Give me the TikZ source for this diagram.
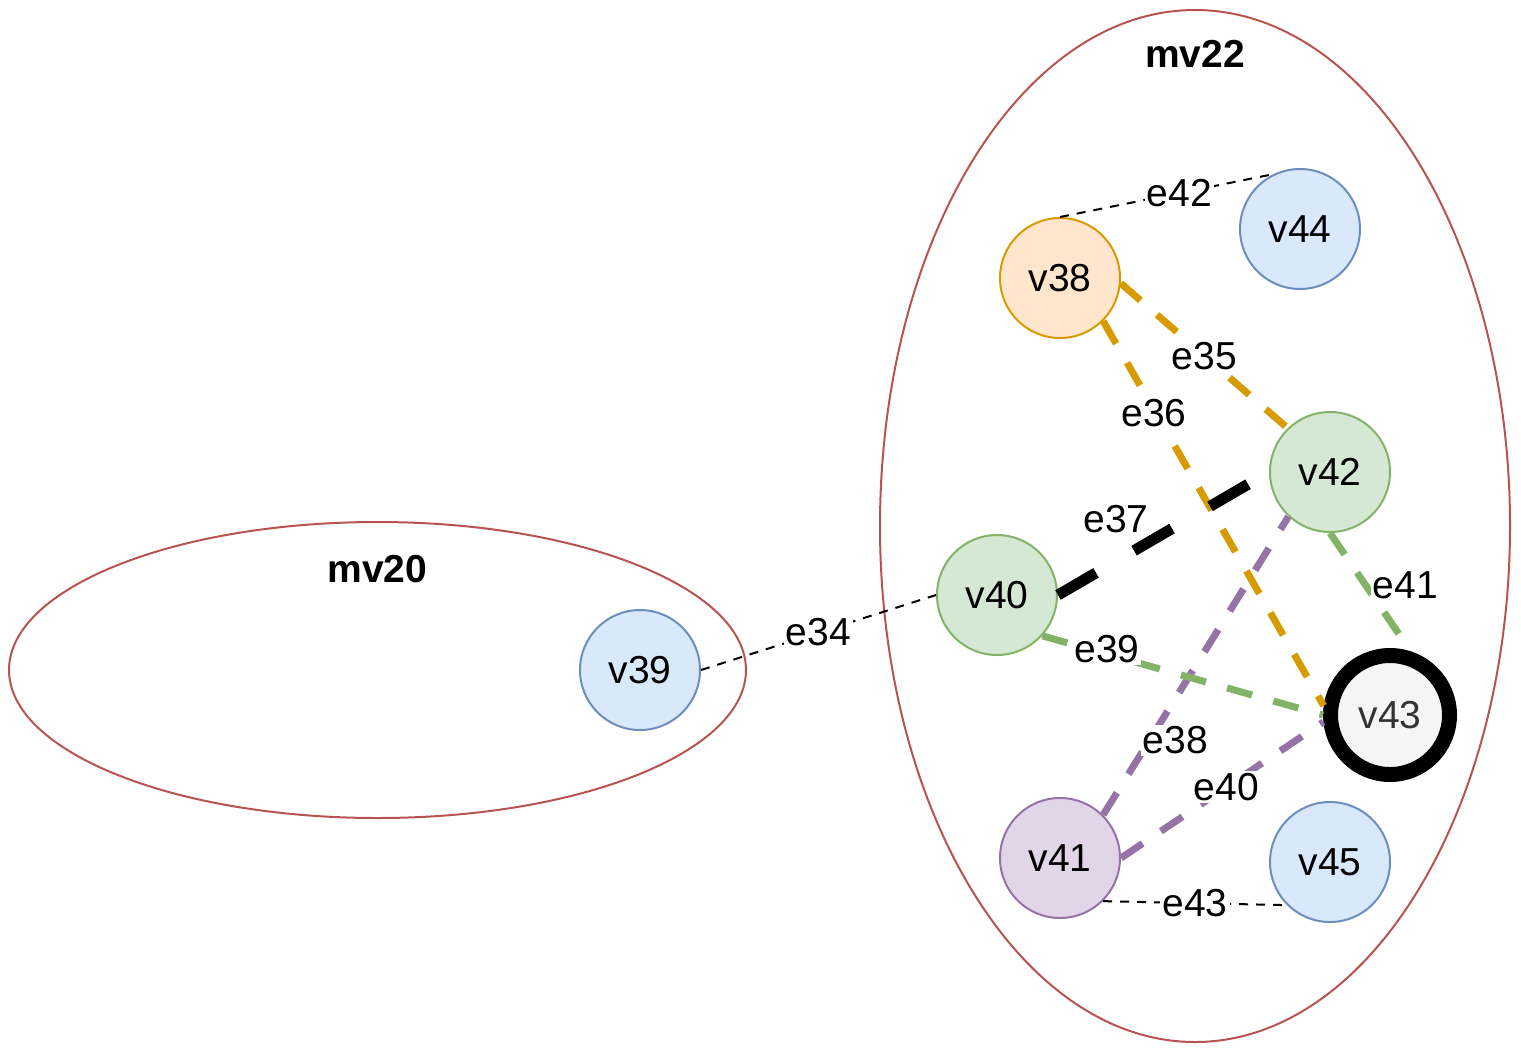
\documentclass[tikz,border=0pt]{standalone}
\usepackage{fontspec}
\setmainfont{Liberation Sans}
\usetikzlibrary{shapes.geometric}

\definecolor{blueFill}{HTML}{DAE8FC}
\definecolor{blueLine}{HTML}{6C8EBF}
\definecolor{greenFill}{HTML}{D5E8D4}
\definecolor{greenLine}{HTML}{82B366}
\definecolor{orangeFill}{HTML}{FFE6CC}
\definecolor{orangeLine}{HTML}{D79B00}
\definecolor{purpleFill}{HTML}{E1D5E7}
\definecolor{purpleLine}{HTML}{9673A6}
\definecolor{greyFill}{HTML}{F5F5F5}
\definecolor{greyText}{HTML}{333333}
\definecolor{groupLine}{HTML}{B85450}

\tikzset{
  vtx/.style={circle,minimum size=60pt,inner sep=0pt,line width=1pt,
    font=\fontsize{19.5}{23}\selectfont},
  vblue/.style={vtx,draw=blueLine,fill=blueFill},
  vgreen/.style={vtx,draw=greenLine,fill=greenFill},
  vorange/.style={vtx,draw=orangeLine,fill=orangeFill},
  vpurple/.style={vtx,draw=purpleLine,fill=purpleFill},
  vgrey/.style={vtx,minimum size=59.5pt,line width=7.5pt,draw=black,fill=greyFill,text=greyText},
  grp/.style={ellipse,draw=groupLine,line width=1pt,inner sep=0pt},
  grplabel/.style={font=\fontsize{19.5}{23}\selectfont\bfseries},
  elabel/.style={fill=white,inner sep=1pt,font=\fontsize{19.5}{23}\selectfont},
  thinedge/.style={line width=1pt,dash pattern=on 4.5pt off 4pt},
  thickedge/.style={line width=3.5pt,dash pattern=on 13pt off 11pt},
  heavyedge/.style={line width=5.5pt,dash pattern=on 22pt off 22pt}
}

\begin{document}
\begin{tikzpicture}[x=0.5pt,y=-0.5pt]
    \useasboundingbox (0,0) rectangle (1521,1056);

    % Gruppi
    \node[grp,minimum width=368.5pt,minimum height=148pt] (mv20) at (377.5,670) {};
    \node[grplabel] (mv20lbl) at ([yshift=-24pt]mv20.north) {mv20};
    \node[grp,minimum width=315pt,minimum height=516pt] (mv22) at (1195,526) {};
    \node[grplabel] (mv22lbl) at ([yshift=-22.5pt]mv22.north) {mv22};

    % Vertici
    \node[vblue] (v39) at (640,670) {v39};
    \node[vgreen] (v40) at (997,595) {v40};
    \node[vorange] (v38) at (1060,278) {v38};
    \node[vblue] (v44) at (1300,229) {v44};
    \node[vgreen] (v42) at (1330,472) {v42};
    \node[vgrey] (v43) at (1390,715) {v43};
    \node[vpurple] (v41) at (1060,858) {v41};
    \node[vblue] (v45) at (1330,862) {v45};

    % Archi sottili
    \draw[thinedge] (v39.east) -- node[elabel] (l34) {e34} (v40.west);
    \draw[thinedge] (v38.north) -- node[elabel,pos=0.56] (l42) {e42} (v44.116);
    \draw[thinedge] (v41.-45) -- node[elabel] (l43) {e43} (v45.-135);

    % Archi arancioni
    \draw[thickedge,orangeLine] (v38.-5) -- node[elabel,text=black] (l35) {e35} (v42.134);
    \draw[thickedge,orangeLine] (v38.-45) -- node[elabel,text=black,pos=0.24,xshift=-1pt] (l36) {e36} (v43.172);

    % Arco nero
    \draw[heavyedge] (v40.east) -- node[elabel,pos=0.275,yshift=21pt] (l37) {e37} (v42.west);

    % Archi viola
    \draw[thickedge,purpleLine] (v41.45) -- node[elabel,text=black,pos=0.25,xshift=13pt] (l38) {e38} (v42.-133);
    \draw[thickedge,purpleLine] (v41.east) -- node[elabel,text=black,pos=0.52] (l40) {e40} (v43.186);

    % Archi verdi
    \draw[thickedge,greenLine] (v40.-42) -- node[elabel,text=black,pos=0.23,yshift=2.5pt] (l39) {e39} (v43.west);
    \draw[thickedge,greenLine] (v42.south) -- node[elabel,text=black,pos=0.44,xshift=20pt] (l41) {e41} (v43.72);
\end{tikzpicture}
\end{document}
